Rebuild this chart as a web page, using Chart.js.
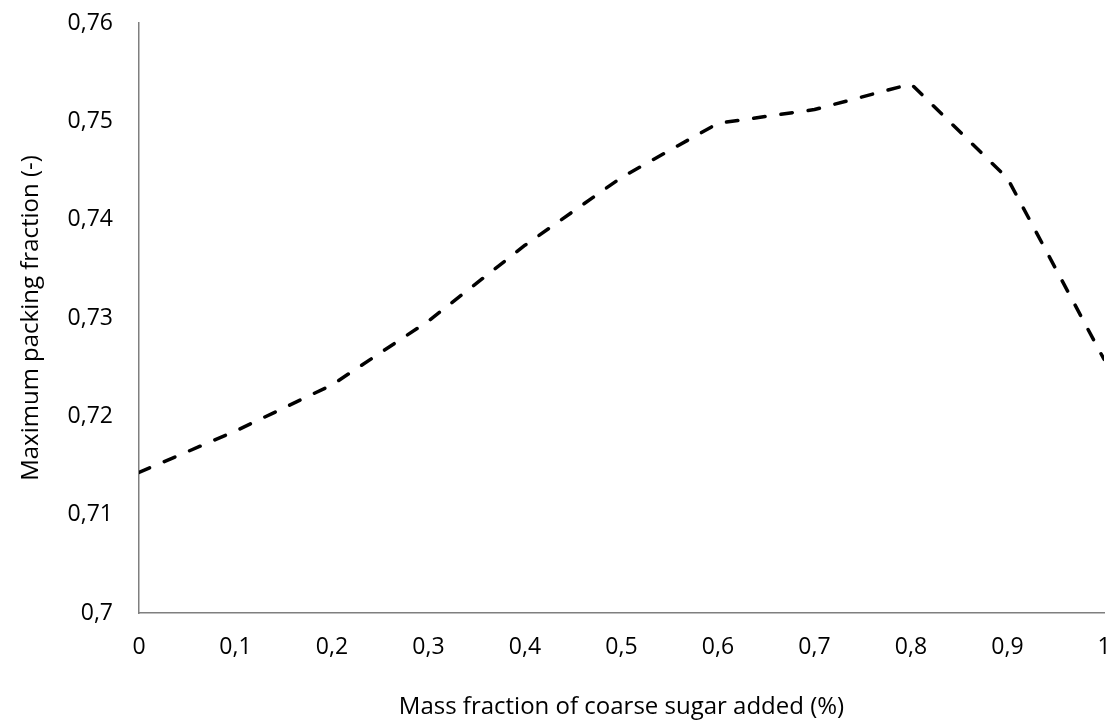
<!DOCTYPE html>
<html>
<head>
<meta charset="utf-8">
<script src="https://cdn.jsdelivr.net/npm/chart.js@4"></script>
<style>
  html, body { margin: 0; padding: 0; background: #fff; }
  #wrap { width: 1119px; height: 727px; }
</style>
</head>
<body>
<div id="wrap"><canvas id="chart" width="1119" height="727"></canvas></div>
<script>
const massFraction = [0, 0.1, 0.2, 0.3, 0.4, 0.5, 0.6, 0.7, 0.8, 0.9, 1];
const packingFraction = [0.7143, 0.7185, 0.7232, 0.7297, 0.7374, 0.7443, 0.7498, 0.7512, 0.7538, 0.7442, 0.7258];

const xTickLabels = ['0', '0,1', '0,2', '0,3', '0,4', '0,5', '0,6', '0,7', '0,8', '0,9', '1'];
const yTickLabels = ['0,7', '0,71', '0,72', '0,73', '0,74', '0,75', '0,76'];

const xTitle = 'Mass fraction of coarse sugar added (%)';
const yTitle = 'Maximum packing fraction (-)';

const FONT = '"Open Sans", "DejaVu Sans", sans-serif';
const axisColor = '#7f7f7f';

new Chart(document.getElementById('chart'), {
  type: 'line',
  data: {
    datasets: [{
      data: massFraction.map((x, i) => ({ x: x, y: packingFraction[i] })),
      borderColor: '#000',
      borderWidth: 3.5,
      borderDash: [11.5, 16],
      borderCapStyle: 'round',
      borderJoinStyle: 'round',
      pointRadius: 0,
      fill: false,
      tension: 0,
    }]
  },
  options: {
    responsive: false,
    animation: false,
    layout: { padding: { top: 23, right: 15, bottom: 0, left: 0 } },
    plugins: {
      legend: { display: false },
      tooltip: { enabled: false }
    },
    scales: {
      x: {
        type: 'linear',
        min: 0,
        max: 1,
        // fixed axis box so the plot area lands where the original has it
        afterFit: s => { s.height = 114; s.paddingLeft = 0; s.paddingRight = 0; },
        afterBuildTicks: s => { s.ticks = massFraction.map(v => ({ value: v })); },
        ticks: {
          color: '#000',
          padding: 21,
          maxRotation: 0,
          autoSkip: false,
          font: { family: FONT, size: 23 },
          callback: (v, i) => xTickLabels[i]
        },
        grid: { display: false, drawTicks: false },
        border: { display: true, color: axisColor, width: 1.5 },
        title: {
          display: true,
          text: xTitle,
          color: '#000',
          padding: { top: 0, bottom: 5 },
          font: { family: FONT, size: 24 }
        }
      },
      y: {
        type: 'linear',
        min: 0.7,
        max: 0.76,
        afterFit: s => { s.width = 139; s.paddingTop = 0; s.paddingBottom = 0; },
        afterBuildTicks: s => { s.ticks = yTickLabels.map((t, i) => ({ value: 0.7 + i * 0.01 })); },
        ticks: {
          color: '#000',
          padding: 26,
          autoSkip: false,
          font: { family: FONT, size: 23 },
          callback: (v, i) => yTickLabels[i]
        },
        grid: { display: false, drawTicks: false },
        border: { display: true, color: axisColor, width: 1.5 },
        title: {
          display: true,
          text: yTitle,
          color: '#000',
          padding: { top: 17, bottom: 0 },
          font: { family: FONT, size: 24 }
        }
      }
    }
  }
});
</script>
</body>
</html>
